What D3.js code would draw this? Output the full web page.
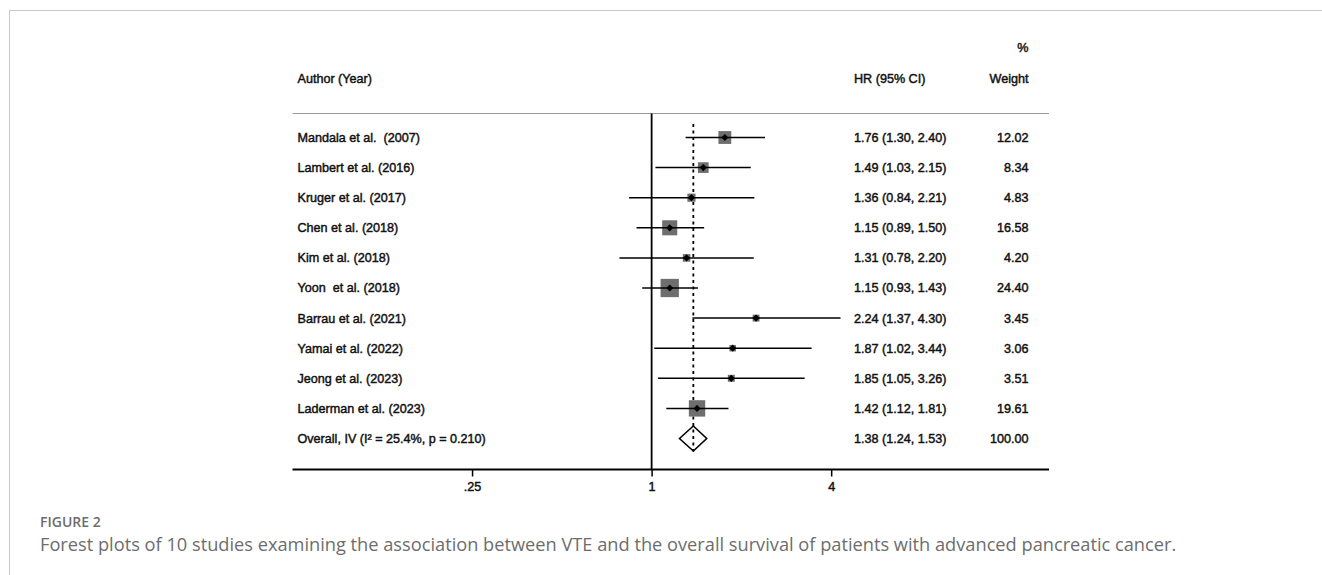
<!DOCTYPE html>
<html><head><meta charset="utf-8">
<script src="https://cdn.jsdelivr.net/npm/d3@7"></script>
<style>
html,body{margin:0;padding:0;background:#fff;}
svg{display:block;}
text{white-space:pre;}
</style></head>
<body>
<svg id="c" width="1322" height="575"></svg>
<script>
const authors = ["Mandala et al.  (2007)","Lambert et al. (2016)","Kruger et al. (2017)","Chen et al. (2018)","Kim et al. (2018)","Yoon  et al. (2018)","Barrau et al. (2021)","Yamai et al. (2022)","Jeong et al. (2023)","Laderman et al. (2023)"];
const hr = [1.76,1.49,1.36,1.15,1.31,1.15,2.24,1.87,1.85,1.42];
const lo = [1.30,1.03,0.84,0.89,0.78,0.93,1.37,1.02,1.05,1.12];
const hi = [2.40,2.15,2.21,1.50,2.20,1.43,4.30,3.44,3.26,1.81];
const weights = ["12.02","8.34","4.83","16.58","4.20","24.40","3.45","3.06","3.51","19.61"];
const overall = {label:"Overall, IV (I\u00B2 = 25.4%, p = 0.210)", hr:1.38, lo:1.24, hi:1.53, weight:"100.00"};
const tickValues = [0.25,1,4];
const tickLabels = [".25","1","4"];

const svg = d3.select("#c");
const font = "'Liberation Sans', Arial, Helvetica, sans-serif";
const fs = 12.6;

// frame
svg.append("line").attr("x1",9.5).attr("x2",1322).attr("y1",10.5).attr("y2",10.5).attr("stroke","#c8c8c8").attr("stroke-width",1);
svg.append("line").attr("x1",9.5).attr("x2",9.5).attr("y1",10).attr("y2",575).attr("stroke","#c8c8c8").attr("stroke-width",1);

const x = d3.scaleLog().base(2).domain([0.0625, 21.5]).range([292.5, 1049]);
const rows = authors.map((a,i)=>({a, hr:hr[i], lo:lo[i], hi:hi[i], w:weights[i]}));
const y = d3.scalePoint().domain(d3.range(rows.length+1)).range([137.5, 438.5]);

const labelX = 297.5, hrX = 854, wRight = 1028.5;
const headerLineY = 113.5, axisY = 469.5;

// text group
const tg = svg.append("g").attr("font-family",font).attr("font-size",fs).attr("fill","#111")
  .attr("stroke","#111").attr("stroke-width",0.45);
tg.append("text").attr("x",labelX).attr("y",79).attr("dy","0.35em").text("Author (Year)");
tg.append("text").attr("x",hrX).attr("y",79).attr("dy","0.35em").text("HR (95% CI)");
tg.append("text").attr("x",wRight).attr("y",79).attr("dy","0.35em").attr("text-anchor","end").text("Weight");
tg.append("text").attr("x",wRight).attr("y",48).attr("dy","0.35em").attr("text-anchor","end").text("%");

svg.append("line").attr("x1",x.range()[0]).attr("x2",x.range()[1]).attr("y1",headerLineY).attr("y2",headerLineY).attr("stroke","#999").attr("stroke-width",1.2);

// null line
svg.append("line").attr("x1",x(1)).attr("x2",x(1)).attr("y1",headerLineY).attr("y2",axisY).attr("stroke","#000").attr("stroke-width",1.8);

// dashed overall line
svg.append("line").attr("x1",x(overall.hr)).attr("x2",x(overall.hr)).attr("y1",124).attr("y2",y(rows.length)+13)
  .attr("stroke","#000").attr("stroke-width",1.8).attr("stroke-dasharray","3,3.5");

// studies
const sg = svg.append("g");
rows.forEach((d,i)=>{
  const yy = y(i);
  const s = 3.7*Math.sqrt(+d.w);
  sg.append("rect").attr("x",x(d.hr)-s/2).attr("y",yy-s/2).attr("width",s).attr("height",s).attr("fill","#6e6e6e");
  sg.append("line").attr("x1",x(d.lo)).attr("x2",x(d.hi)).attr("y1",yy).attr("y2",yy).attr("stroke","#000").attr("stroke-width",1.5);
  const r=3.6;
  sg.append("path").attr("d",`M${x(d.hr)},${yy-r}L${x(d.hr)+r},${yy}L${x(d.hr)},${yy+r}L${x(d.hr)-r},${yy}Z`).attr("fill","#000");
  tg.append("text").attr("x",labelX).attr("y",yy).attr("dy","0.35em").text(d.a);
  tg.append("text").attr("x",hrX).attr("y",yy).attr("dy","0.35em").text(`${d.hr.toFixed(2)} (${d.lo.toFixed(2)}, ${d.hi.toFixed(2)})`);
  tg.append("text").attr("x",wRight).attr("y",yy).attr("dy","0.35em").attr("text-anchor","end").text(d.w);
});

// overall
const oy = y(rows.length);
sg.append("path").attr("d",`M${x(overall.lo)},${oy}L${x(overall.hr)},${oy-12.5}L${x(overall.hi)},${oy}L${x(overall.hr)},${oy+12.5}Z`)
  .attr("fill","none").attr("stroke","#000").attr("stroke-width",1.6);
tg.append("text").attr("x",labelX).attr("y",oy).attr("dy","0.35em").text(overall.label);
tg.append("text").attr("x",hrX).attr("y",oy).attr("dy","0.35em").text(`${overall.hr.toFixed(2)} (${overall.lo.toFixed(2)}, ${overall.hi.toFixed(2)})`);
tg.append("text").attr("x",wRight).attr("y",oy).attr("dy","0.35em").attr("text-anchor","end").text(overall.weight);

// axis
const axis = d3.axisBottom(x).tickValues(tickValues).tickFormat((d,i)=>tickLabels[i]).tickSize(7).tickPadding(6);
const ag = svg.append("g").attr("transform",`translate(0,${axisY})`).call(axis);
ag.select(".domain").attr("stroke","#000").attr("stroke-width",2).attr("d",`M${x.range()[0]},0H${x.range()[1]}`);
ag.selectAll(".tick line").attr("stroke","#000").attr("stroke-width",1.5);
ag.selectAll(".tick text").attr("font-family",font).attr("font-size",fs).attr("fill","#111").attr("stroke","#111").attr("stroke-width",0.45);

// caption
svg.append("text").attr("x",40).attr("y",522).attr("dy","0.35em").attr("font-family","'Open Sans', sans-serif").attr("font-size",14).attr("font-weight",600).attr("fill","#6d6d6d").text("FIGURE 2");
const cap = svg.append("text").attr("x",40).attr("y",545).attr("dy","0.35em").attr("font-family","'Open Sans', sans-serif").attr("font-size",16).attr("fill","#6d6d6d")
  .text("Forest plots of 10 studies examining the association between VTE and the overall survival of patients with advanced pancreatic cancer.");
const w = cap.node().getComputedTextLength();
cap.attr("font-size", 16*1137/w);
</script>
</body></html>
